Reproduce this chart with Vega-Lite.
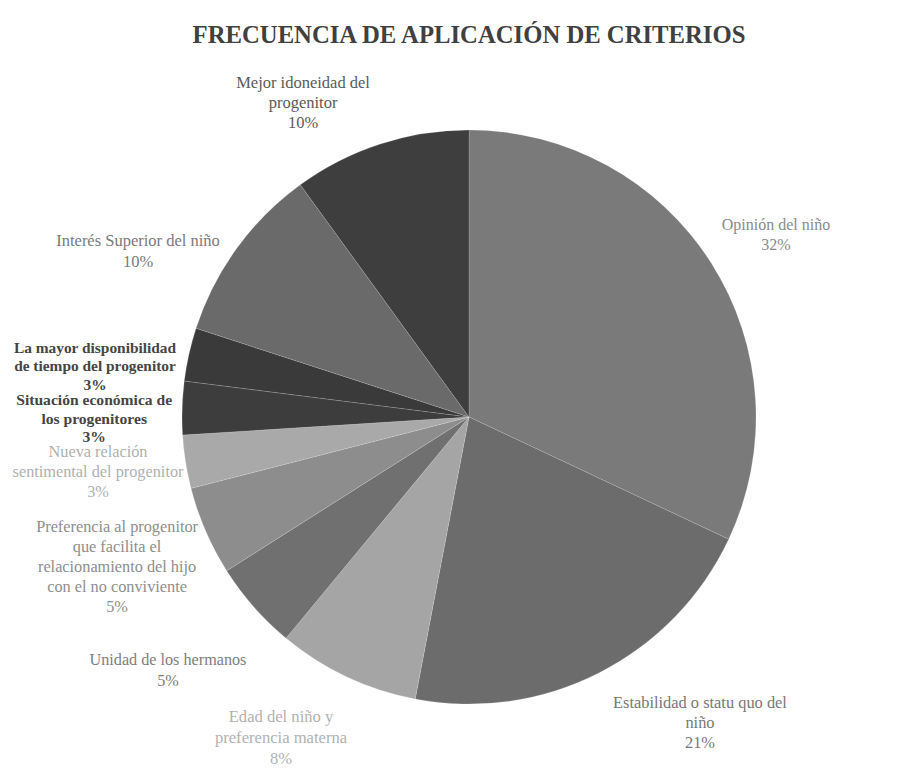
{
  "$schema": "https://vega.github.io/schema/vega-lite/v6.json",
  "autosize": "none",
  "width": 910,
  "height": 718,
  "padding": {"left": 14, "top": 58, "right": 0, "bottom": 0},
  "background": "white",
  "config": {"view": {"stroke": null}},
  "title": {"text": "FRECUENCIA DE APLICACIÓN DE CRITERIOS", "font": "'Liberation Serif', 'Times New Roman', 'DejaVu Serif', serif", "fontSize": 24.7, "fontWeight": "bold", "color": "#404040", "anchor": "middle", "baseline": "alphabetic", "offset": 11, "dy": 21},
  "data": {"values": [
    {"idx": 1, "name": "Opinión del niño", "value": 32, "label": "Opinión del niño\n32%"},
    {"idx": 2, "name": "Estabilidad o statu quo del niño", "value": 21, "label": "Estabilidad o statu quo del\nniño\n21%"},
    {"idx": 3, "name": "Edad del niño y preferencia materna", "value": 8, "label": "Edad del niño y\npreferencia materna\n8%"},
    {"idx": 4, "name": "Unidad de los hermanos", "value": 5, "label": "Unidad de los hermanos\n5%"},
    {"idx": 5, "name": "Preferencia al progenitor que facilita el relacionamiento del hijo con el no conviviente", "value": 5, "label": "Preferencia al progenitor\nque facilita el\nrelacionamiento del  hijo\ncon el no conviviente\n5%"},
    {"idx": 6, "name": "Nueva relación sentimental del progenitor", "value": 3, "label": "Nueva relación\nsentimental del progenitor\n3%"},
    {"idx": 7, "name": "Situación económica de los progenitores", "value": 3, "label": "Situación económica de\nlos progenitores\n3%"},
    {"idx": 8, "name": "La mayor disponibilidad de tiempo del progenitor", "value": 3, "label": "La mayor disponibilidad\nde tiempo del progenitor\n3%"},
    {"idx": 9, "name": "Interés Superior del niño", "value": 10, "label": "Interés Superior del niño\n10%"},
    {"idx": 10, "name": "Mejor idoneidad del progenitor", "value": 10, "label": "Mejor idoneidad del\nprogenitor\n10%"}
  ]},
  "encoding": {
    "theta": {"field": "value", "type": "quantitative", "stack": true},
    "order": {"field": "idx", "type": "quantitative"},
    "detail": {"field": "name", "type": "nominal"}
  },
  "layer": [
    {
      "mark": {"type": "arc", "radius": 287, "stroke": "#ffffff", "strokeWidth": 0.3, "strokeOpacity": 0.5},
      "encoding": {
        "color": {"field": "name", "type": "nominal", "legend": null,
          "scale": {
            "domain": ["Opinión del niño", "Estabilidad o statu quo del niño", "Edad del niño y preferencia materna", "Unidad de los hermanos", "Preferencia al progenitor que facilita el relacionamiento del hijo con el no conviviente", "Nueva relación sentimental del progenitor", "Situación económica de los progenitores", "La mayor disponibilidad de tiempo del progenitor", "Interés Superior del niño", "Mejor idoneidad del progenitor"],
            "range": ["#7a7a7a", "#6c6c6c", "#a5a5a5", "#707070", "#8d8d8d", "#a9a9a9", "#3d3d3d", "#3a3a3a", "#6a6a6a", "#3e3e3e"]
          }
        }
      }
    },
    {
      "mark": {"type": "text", "radius": {"expr": "datum.idx === 1 ? 357 : 0"}, "dx": 5.6, "dy": -0.7, "font": "'Liberation Serif', 'Times New Roman', 'DejaVu Serif', serif", "fontSize": 16, "lineHeight": 20, "lineBreak": "\n", "align": "center", "baseline": "middle", "color": "#8a8a8a"},
      "encoding": {"text": {"condition": {"test": "datum.idx === 1", "field": "label"}, "value": ""}}
    },
    {
      "mark": {"type": "text", "radius": {"expr": "datum.idx === 2 ? 383.4 : 0"}, "dx": 56.9, "dy": -55.6, "font": "'Liberation Serif', 'Times New Roman', 'DejaVu Serif', serif", "fontSize": 16.4, "lineHeight": 20, "lineBreak": "\n", "align": "center", "baseline": "middle", "color": "#787878"},
      "encoding": {"text": {"condition": {"test": "datum.idx === 2", "field": "label"}, "value": ""}}
    },
    {
      "mark": {"type": "text", "radius": {"expr": "datum.idx === 3 ? 372 : 0"}, "dx": -29.6, "dy": -36.6, "font": "'Liberation Serif', 'Times New Roman', 'DejaVu Serif', serif", "fontSize": 16.6, "lineHeight": 21, "lineBreak": "\n", "align": "center", "baseline": "middle", "color": "#b2b2b2"},
      "encoding": {"text": {"condition": {"test": "datum.idx === 3", "field": "label"}, "value": ""}}
    },
    {
      "mark": {"type": "text", "radius": {"expr": "datum.idx === 4 ? 393.2 : 0"}, "dx": -6.1, "dy": -17.5, "font": "'Liberation Serif', 'Times New Roman', 'DejaVu Serif', serif", "fontSize": 16.2, "lineHeight": 21, "lineBreak": "\n", "align": "center", "baseline": "middle", "color": "#7e7e7e"},
      "encoding": {"text": {"condition": {"test": "datum.idx === 4", "field": "label"}, "value": ""}}
    },
    {
      "mark": {"type": "text", "radius": {"expr": "datum.idx === 5 ? 382.6 : 0"}, "dx": -0.8, "dy": -41.9, "font": "'Liberation Serif', 'Times New Roman', 'DejaVu Serif', serif", "fontSize": 16.3, "lineHeight": 20, "lineBreak": "\n", "align": "center", "baseline": "middle", "color": "#8e8e8e"},
      "encoding": {"text": {"condition": {"test": "datum.idx === 5", "field": "label"}, "value": ""}}
    },
    {
      "mark": {"type": "text", "radius": {"expr": "datum.idx === 6 ? 375.1 : 0"}, "dx": -0.5, "dy": -23.7, "font": "'Liberation Serif', 'Times New Roman', 'DejaVu Serif', serif", "fontSize": 16.3, "lineHeight": 20, "lineBreak": "\n", "align": "center", "baseline": "middle", "color": "#b0b0b0"},
      "encoding": {"text": {"condition": {"test": "datum.idx === 6", "field": "label"}, "value": ""}}
    },
    {
      "mark": {"type": "text", "radius": {"expr": "datum.idx === 7 ? 375 : 0"}, "dx": 0, "dy": -5.2, "font": "'Liberation Serif', 'Times New Roman', 'DejaVu Serif', serif", "fontSize": 15.6, "fontWeight": "bold", "lineHeight": 18.5, "lineBreak": "\n", "align": "center", "baseline": "middle", "color": "#454545"},
      "encoding": {"text": {"condition": {"test": "datum.idx === 7", "field": "label"}, "value": ""}}
    },
    {
      "mark": {"type": "text", "radius": {"expr": "datum.idx === 8 ? 377.3 : 0"}, "dx": -5.8, "dy": 13.3, "font": "'Liberation Serif', 'Times New Roman', 'DejaVu Serif', serif", "fontSize": 15.4, "fontWeight": "bold", "lineHeight": 18.5, "lineBreak": "\n", "align": "center", "baseline": "middle", "color": "#454545"},
      "encoding": {"text": {"condition": {"test": "datum.idx === 8", "field": "label"}, "value": ""}}
    },
    {
      "mark": {"type": "text", "radius": {"expr": "datum.idx === 9 ? 370.3 : 0"}, "dx": -31.4, "dy": 41.2, "font": "'Liberation Serif', 'Times New Roman', 'DejaVu Serif', serif", "fontSize": 16.5, "lineHeight": 21, "lineBreak": "\n", "align": "center", "baseline": "middle", "color": "#7a7a7a"},
      "encoding": {"text": {"condition": {"test": "datum.idx === 9", "field": "label"}, "value": ""}}
    },
    {
      "mark": {"type": "text", "radius": {"expr": "datum.idx === 10 ? 355.2 : 0"}, "dx": -56.2, "dy": 3.8, "font": "'Liberation Serif', 'Times New Roman', 'DejaVu Serif', serif", "fontSize": 16.5, "lineHeight": 20, "lineBreak": "\n", "align": "center", "baseline": "middle", "color": "#5a5a5a"},
      "encoding": {"text": {"condition": {"test": "datum.idx === 10", "field": "label"}, "value": ""}}
    }
  ]
}
